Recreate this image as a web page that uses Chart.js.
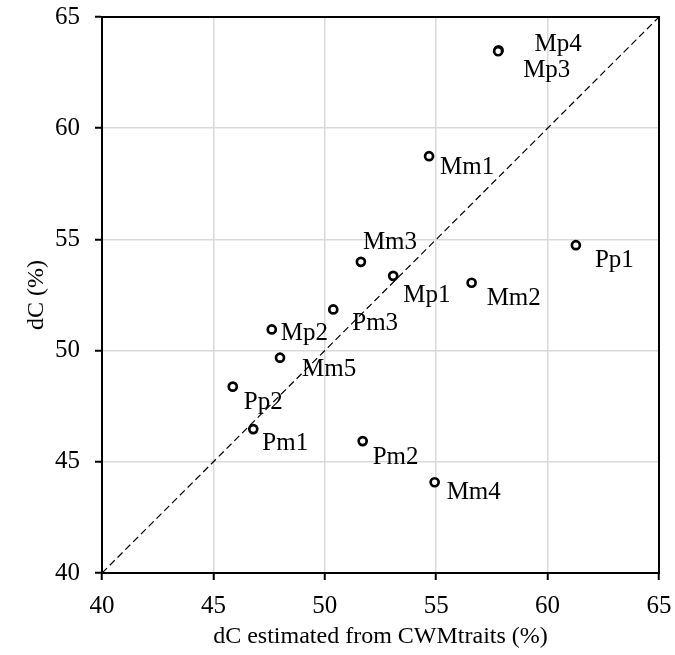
<!DOCTYPE html>
<html>
<head>
<meta charset="utf-8">
<script src="https://cdn.jsdelivr.net/npm/chart.js@4/dist/chart.umd.min.js"></script>
<style>
  html, body { margin: 0; padding: 0; background: #fff; }
  #wrap { width: 675px; height: 655px; }
</style>
</head>
<body>
<div id="wrap"><canvas id="canvas"></canvas></div>
<script>
// site codes, estimated dC from CWM traits (x) and measured dC (y)
const names = ['Mp4', 'Mp3', 'Mm1', 'Mm3', 'Mp1', 'Mm2', 'Pp1', 'Pm3', 'Mp2', 'Mm5', 'Pp2', 'Pm1', 'Pm2', 'Mm4'];
const estimated = [57.8, 57.78, 54.68, 51.62, 53.07, 56.59, 61.27, 50.38, 47.62, 47.99, 45.87, 46.79, 51.7, 54.93];
const measured = [63.5, 63.46, 58.74, 53.99, 53.36, 53.05, 54.74, 51.85, 50.95, 49.68, 48.38, 46.47, 45.93, 44.08];
const oneToOne = [40, 65];
const ticks = [40, 45, 50, 55, 60, 65];

// where each name sits relative to its marker (px)
const labelOffsets = {
  Mp4: [36, -6], Mp3: [25, 19], Mm1: [11, 11], Mm3: [2, -19], Mp1: [10, 20],
  Mm2: [15, 16], Pp1: [19, 15], Pm3: [19, 14], Mp2: [9, 4], Mm5: [22, 12],
  Pp2: [11, 16], Pm1: [9, 14], Pm2: [10, 16], Mm4: [12, 10]
};

const serif = '"Liberation Serif", "DejaVu Serif", serif';

const pointLabels = {
  id: 'pointLabels',
  afterDatasetsDraw(chart) {
    const ctx = chart.ctx;
    const meta = chart.getDatasetMeta(0);
    ctx.save();
    ctx.font = '25px ' + serif;
    ctx.fillStyle = '#000';
    ctx.textAlign = 'left';
    ctx.textBaseline = 'middle';
    meta.data.forEach((pt, i) => {
      const off = labelOffsets[names[i]];
      ctx.fillText(names[i], pt.x + off[0], pt.y + off[1]);
    });
    ctx.restore();
  }
};

// black box round the plot area
const frame = {
  id: 'frame',
  afterDraw(chart) {
    const a = chart.chartArea;
    const ctx = chart.ctx;
    ctx.save();
    ctx.strokeStyle = '#000';
    ctx.lineWidth = 2;
    ctx.strokeRect(a.left, a.top, a.right - a.left, a.bottom - a.top);
    ctx.restore();
  }
};

const axis = (title, isX) => ({
  type: 'linear',
  min: 40,
  max: 65,
  afterBuildTicks: s => { s.ticks = ticks.map(v => ({ value: v })); },
  afterFit: s => {
    // fixed axis sizes; end labels may hang over the outer padding
    if (isX) { s.height = 82; s.paddingLeft = 0; s.paddingRight = 0; }
    else { s.width = 102; s.paddingTop = 0; s.paddingBottom = 0; }
  },
  grid: { color: '#d9d9d9', lineWidth: 1.5, tickColor: '#000', tickLength: 7, tickWidth: 2 },
  border: { color: '#000', width: 2 },
  ticks: { color: '#000', font: { family: serif, size: 25 }, padding: isX ? 11 : 15 },
  title: { display: true, text: title, color: '#000', font: { family: serif, size: 24 }, padding: isX ? { top: 2 } : { top: 22, bottom: 0 } }
});

new Chart(document.getElementById('canvas'), {
  type: 'scatter',
  data: {
    datasets: [{
      data: estimated.map((x, i) => ({ x, y: measured[i] })),
      pointRadius: 4,
      pointBorderWidth: 2.7,
      pointBorderColor: '#000',
      pointBackgroundColor: '#fff',
      order: 1
    }, {
      type: 'line',
      data: oneToOne.map(v => ({ x: v, y: v })),
      borderColor: '#000',
      borderWidth: 1.2,
      borderDash: [7, 4],
      pointRadius: 0,
      order: 2
    }]
  },
  options: {
    responsive: true,
    maintainAspectRatio: false,
    animation: false,
    layout: { padding: { top: 17, right: 16, left: 0, bottom: 0 } },
    plugins: { legend: { display: false }, tooltip: { enabled: false } },
    scales: {
      x: axis('dC estimated from CWMtraits (%)', true),
      y: axis('dC (%)', false)
    }
  },
  plugins: [pointLabels, frame]
});
</script>
</body>
</html>
